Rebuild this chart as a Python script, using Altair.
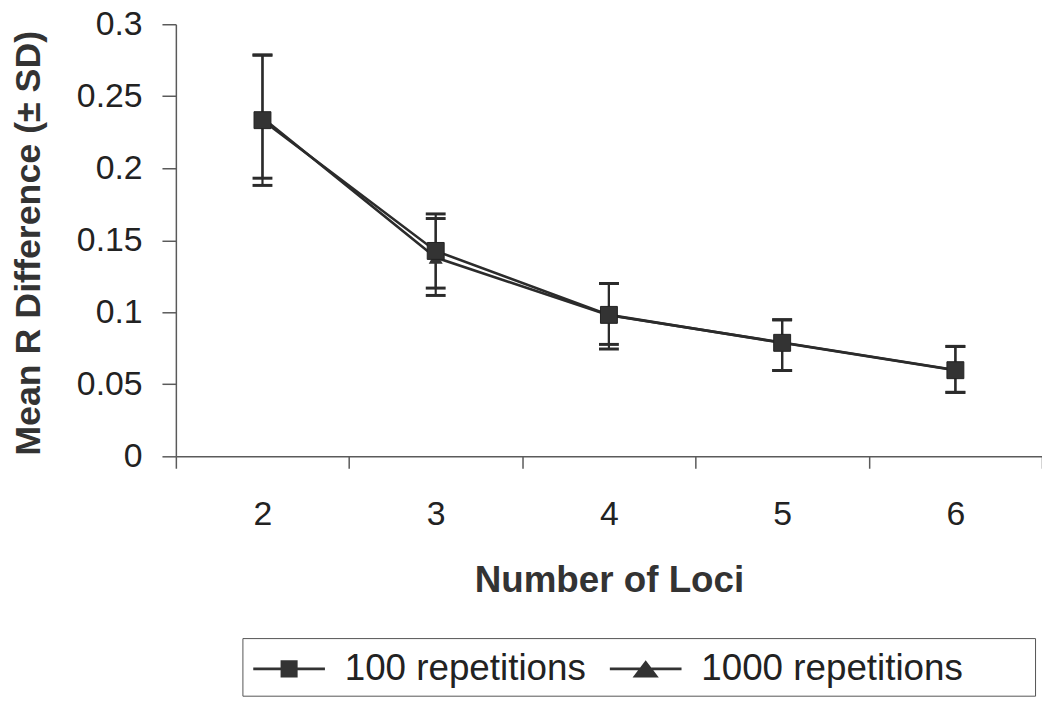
import altair as alt
import pandas as pd

# ---- data ----
loci = ["2", "3", "4", "5", "6"]
series_names = ["100 repetitions", "1000 repetitions"]

mean_100 = [0.2334, 0.1426, 0.0982, 0.0788, 0.0598]
lower_100 = [0.1881, 0.1168, 0.0777, 0.0596, 0.0444]
upper_100 = [0.2786, 0.1683, 0.1200, 0.0948, 0.0763]

mean_1000 = [0.2350, 0.1380, 0.0980, 0.0790, 0.0600]
lower_1000 = [0.1931, 0.1117, 0.0745, 0.0596, 0.0444]
upper_1000 = [0.2786, 0.1651, 0.1200, 0.0948, 0.0763]

y_ticks = [0, 0.05, 0.1, 0.15, 0.2, 0.25, 0.3]

rows = []
for name, m, lo, hi in [
    (series_names[0], mean_100, lower_100, upper_100),
    (series_names[1], mean_1000, lower_1000, upper_1000),
]:
    for k, mm, l, h in zip(loci, m, lo, hi):
        rows.append({"loci": k, "series": name, "mean": mm, "lower": l, "upper": h})
df = pd.DataFrame(rows)

FONT = "Liberation Sans"
INK = "#2b2b2b"
AXIS = "#5a5a5a"

x_enc = alt.X(
    "loci:O",
    scale=alt.Scale(type="band", domain=loci, paddingInner=0, paddingOuter=0),
    axis=alt.Axis(
        title="Number of Loci",
        tickBand="extent",
        labelAngle=0,
        labelFont=FONT,
        labelFontSize=34,
        labelColor="#222222",
        labelBaseline="alphabetic",
        labelPadding=57,
        tickSize=12,
        tickColor=AXIS,
        domainColor=AXIS,
        tickWidth=1.5,
        domainWidth=1.5,
        titleFont=FONT,
        titleFontSize=37,
        titleFontWeight="bold",
        titleColor="#333333",
        titleBaseline="alphabetic",
        titleX=436,
        titleY=136,
        grid=False,
    ),
)

y_scale = alt.Scale(domain=[0, 0.3], nice=False, zero=True)
y_axis = alt.Axis(
    title="Mean R Difference (± SD)",
    values=y_ticks,
    format="~g",
    labelFont=FONT,
    labelFontSize=34,
    labelColor="#222222",
    labelPadding=20,
    tickSize=14,
    tickColor=AXIS,
    domainColor=AXIS,
    tickWidth=1.5,
    domainWidth=1.5,
    titleFont=FONT,
    titleFontSize=36,
    titleFontWeight="bold",
    titleColor="#333333",
    titleAngle=270,
    titleAlign="center",
    titleBaseline="alphabetic",
    titleX=-137,
    titleY=220,
    grid=False,
)

base = alt.Chart(df)

lines = base.mark_line(color=INK, strokeWidth=2.6).encode(
    x=x_enc,
    y=alt.Y("mean:Q", scale=y_scale, axis=y_axis),
    detail="series:N",
)

err = base.mark_rule(color=INK, strokeWidth=2.2).encode(
    x=alt.X("loci:O"),
    y=alt.Y("lower:Q"),
    y2="upper:Q",
)

cap_lo = base.mark_tick(color=INK, thickness=3, size=20, opacity=1).encode(
    x=alt.X("loci:O"), y=alt.Y("lower:Q")
)
cap_hi = base.mark_tick(color=INK, thickness=3, size=20, opacity=1).encode(
    x=alt.X("loci:O"), y=alt.Y("upper:Q")
)

tri = base.transform_filter(alt.datum.series == series_names[1]).mark_point(
    shape="triangle-up", filled=True, color="#333333", size=200, opacity=1
).encode(x=alt.X("loci:O"), y=alt.Y("mean:Q"))

sq = base.transform_filter(alt.datum.series == series_names[0]).mark_point(
    shape="square", filled=True, color="#333333", size=290, opacity=1,
    stroke="#222222", strokeWidth=1
).encode(x=alt.X("loci:O"), y=alt.Y("mean:Q"))

# legend carrier layer (invisible marks, visible legend symbols)
# symbol box is 44px (unit = 22px); the line reaches +-1.64 units (72px long)
path_sq = "M-1.64,-0.065H1.64V0.065H-1.64Z M-0.39,-0.39H0.39V0.39H-0.39Z"
path_tri = "M-1.64,-0.065H1.64V0.065H-1.64Z M0,-0.4L0.6,0.4H-0.6Z"

leg = base.mark_point(filled=True, color="#333333", opacity=0).encode(
    x=alt.X("loci:O"),
    y=alt.Y("mean:Q"),
    shape=alt.Shape(
        "series:N",
        scale=alt.Scale(domain=series_names, range=[path_sq, path_tri]),
        legend=alt.Legend(
            title="\u00a0",
            titleOrient="right",
            titlePadding=64,
            titleFontSize=10,
            orient="none",
            legendX=67,
            legendY=618,
            direction="horizontal",
            symbolSize=1936,
            symbolOffset=16,
            symbolOpacity=1,
            symbolFillColor="#333333",
            symbolStrokeWidth=0,
            labelFont=FONT,
            labelFontSize=37,
            labelColor="#222222",
            labelOffset=34,
            labelLimit=700,
            columnPadding=22,
            padding=9,
            strokeColor="#555555",
            fillColor="white",
        ),
    ),
)

chart = (
    alt.layer(lines, err, cap_lo, cap_hi, tri, sq, leg)
    .properties(
        width=872,
        height=435,
        padding={"left": 169, "top": 14, "right": 0, "bottom": 246},
        autosize=alt.AutoSizeParams(type="none"),
        background="white",
    )
    .configure_view(stroke=None)
)

chart.save("out.html", embed_options={"renderer": "svg", "actions": False})
